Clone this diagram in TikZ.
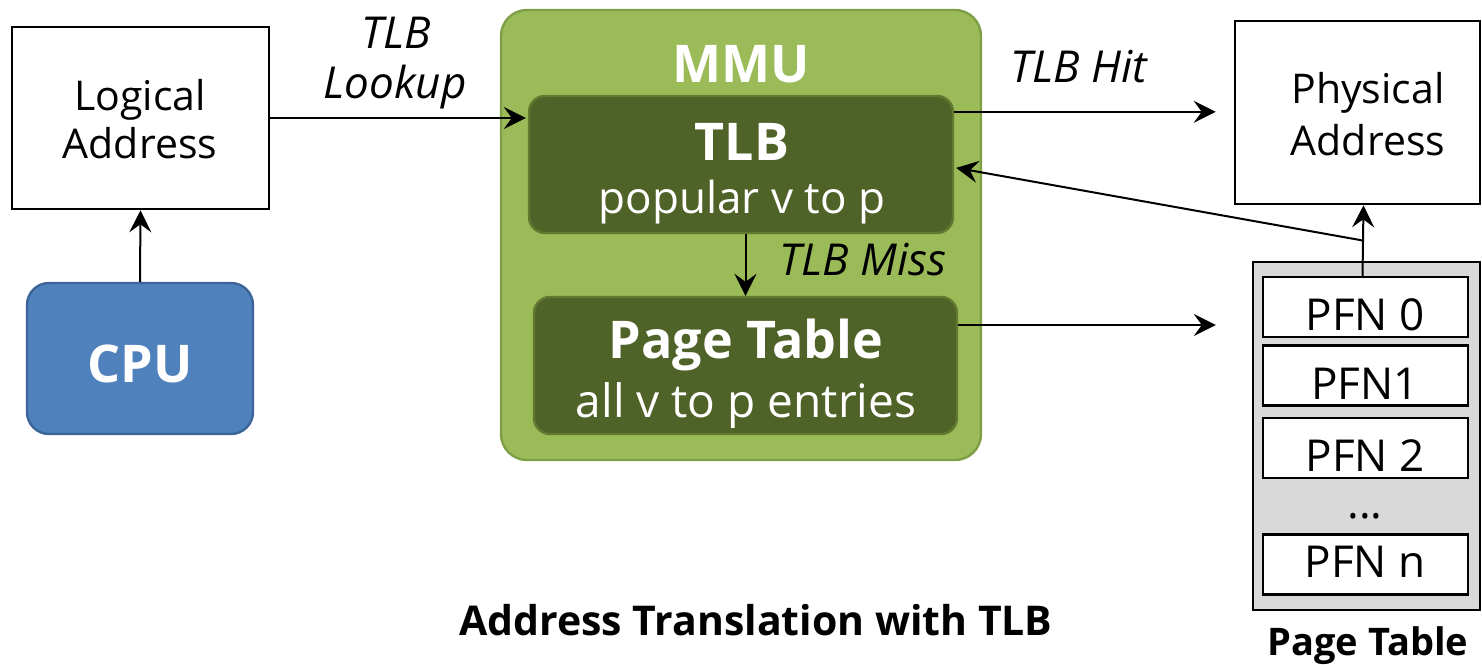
\documentclass[tikz,border=0pt]{standalone}
\usepackage{fontspec}
\setmainfont{Open Sans}
\usetikzlibrary{arrows.meta,calc}
\definecolor{mmugreen}{HTML}{9BBB59}
\definecolor{mmuedge}{HTML}{7E9F45}
\definecolor{darkgreen}{HTML}{4F6228}
\definecolor{darkedge}{HTML}{62792F}
\definecolor{cpublue}{HTML}{4F81BD}
\definecolor{cpuedge}{HTML}{3A6596}
\definecolor{stackgray}{HTML}{D9D9D9}
\tikzset{
  plainbox/.style={draw=black, line width=1.3pt, fill=white, inner sep=0pt},
  innerbox/.style={draw=darkedge, line width=1.2pt, fill=darkgreen, rounded corners=8pt, inner sep=0pt},
  pfnbox/.style={draw=black, line width=1.2pt, fill=white, inner sep=0pt,
                 minimum width=102.5pt, minimum height=30pt},
  arr/.style={line width=1pt, -{Stealth[length=11pt, width=11pt, inset=4pt]}},
  txt/.style={anchor=base, inner sep=0pt},
  itl/.style={txt, font=\fontsize{22}{26}\selectfont\itshape},
  reg/.style={txt, font=\fontsize{22}{26}\selectfont},
  boxtxt/.style={txt, font=\fontsize{20.5}{24}\selectfont},
  bld/.style={txt, font=\fontsize{26}{30}\selectfont\bfseries, text=white},
}
\begin{document}
\begin{tikzpicture}[x=0.5pt, y=-0.5pt]
\useasboundingbox (0,0) rectangle (1482,664);

% left column
\node[plainbox, minimum width=128.5pt, minimum height=91pt] (logical) at (140.5,118) {};
\node[boxtxt] (logical1) at (140,110) {Logical};
\node[boxtxt] (logical2) at (140,158) {Address};
\node[draw=cpuedge, line width=1.2pt, fill=cpublue, rounded corners=11pt,
      minimum width=113pt, minimum height=75.5pt] (cpu) at (140,358.5) {};
\node[bld, font=\fontsize{26}{30}\selectfont\bfseries] (cpulabel) at (140,382) {CPU};

% MMU with TLB and page table
\node[draw=mmuedge, line width=1.2pt, fill=mmugreen, rounded corners=13pt,
      minimum width=240pt, minimum height=225pt] (mmu) at (741,235) {};
\node[bld] (mmulabel) at (741,82) {MMU};
\node[innerbox, minimum width=212pt, minimum height=68.5pt] (tlb) at (741,164.5) {};
\node[bld] (tlbtitle) at (742,160) {TLB};
\node[reg, text=white] (tlbsub) at (742,213) {popular v to p};
\node[innerbox, minimum width=211.5pt, minimum height=68.5pt] (pt) at (745.5,365.5) {};
\node[bld] (pttitle) at (746,358) {Page Table};
\node[reg, text=white, font=\fontsize{23}{27}\selectfont] (ptsub) at (746,417) {all v to p entries};

% right column
\node[plainbox, minimum width=122.5pt, minimum height=91.5pt] (phys) at (1357.5,112.5) {};
\node[boxtxt] (phys1) at (1368,103) {Physical};
\node[boxtxt] (phys2) at (1368,155) {Address};

\node[draw=black, line width=1.2pt, fill=stackgray, inner sep=0pt,
      minimum width=113.5pt, minimum height=174pt] (stack) at (1366.5,436) {};
\node[pfnbox] (pfn0) at (1365.5,307) {};
\node[pfnbox] (pfn1) at (1365.5,375.5) {};
\node[pfnbox] (pfn2) at (1365.5,448) {};
\node[pfnbox] (pfnn) at (1365.5,564.5) {};
\node[reg] (pfn0t) at (1365,330) {PFN 0};
\node[reg] (pfn1t) at (1365,399) {PFN1};
\node[reg] (pfn2t) at (1365,471) {PFN 2};
\node[reg] (dots) at (1365,518) {...};
\node[reg] (pfnnt) at (1365,577) {PFN n};
\node[txt, font=\fontsize{19}{23}\selectfont\bfseries] (stacklabel) at (1368,655) {Page Table};

% caption
\node[txt, font=\fontsize{20.5}{25}\selectfont\bfseries] (caption) at (756,635) {Address Translation with TLB};

% connectors
\draw[arr] (cpu.north) -- (logical.south);
\draw[arr, shorten >=1pt] (logical.east) -- (logical.east -| tlb.west);
\node[itl] (lookup1) at (396,48) {TLB};
\node[itl] (lookup2) at (395,98) {Lookup};

\draw[arr] (pt.north |- tlb.south) -- (pt.north);
\node[itl, anchor=base west] (miss) at (779,275) {TLB Miss};

\coordinate (hitstart) at ($(tlb.north east)+(0,17)$);
\draw[arr, shorten >=9pt] (hitstart) -- (hitstart -| phys.west);
\node[itl, anchor=base west] (hit) at (1010,82) {TLB Hit};

\coordinate (ptout) at ($(pt.east)+(0,-40.5)$);
\draw[arr, shorten >=18pt] (ptout) -- (ptout -| stack.west);

\coordinate (pfnup) at ($(pfn0.north)+(-3,0)$);
\coordinate (physdown) at ($(phys.south)+(6,0)$);
\draw[arr] (pfnup) -- (physdown);
\coordinate (branch) at ($(pfnup)!0.5!(physdown)$);
\draw[arr, shorten >=1pt] (branch) -- ($(tlb.east)+(0,3)$);
\end{tikzpicture}
\end{document}
